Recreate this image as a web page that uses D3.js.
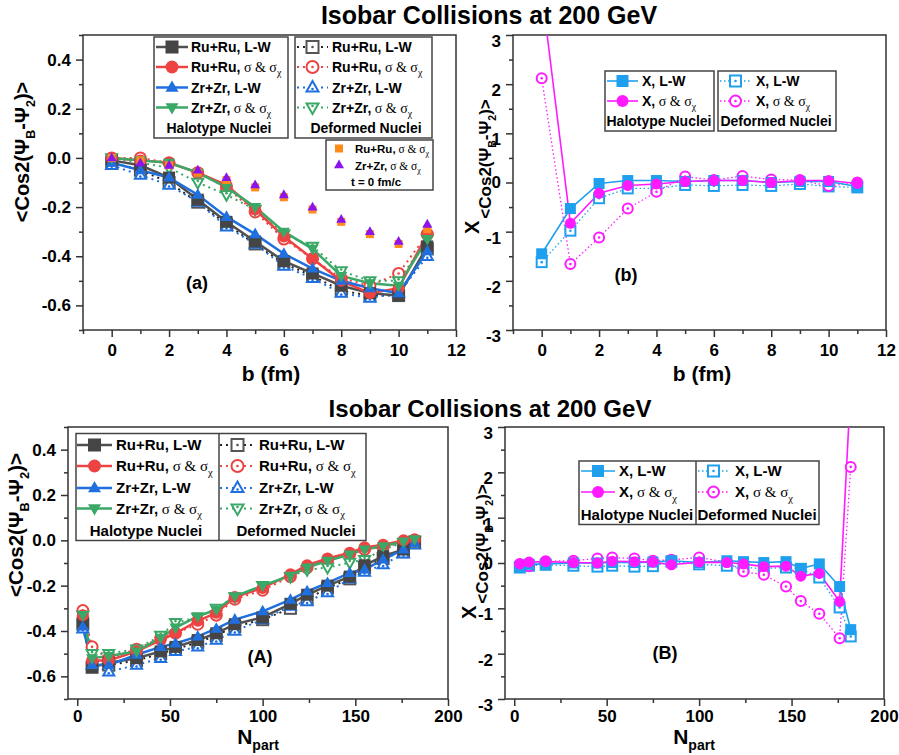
<!DOCTYPE html>
<html><head><meta charset="utf-8">
<script src="https://cdn.jsdelivr.net/npm/d3@7"></script>
<style>
body{margin:0;background:#fff}
svg{display:block}
text{font-family:"Liberation Sans",Arial,sans-serif;font-weight:bold;fill:#000}
</style>
</head><body>
<svg id="fig" width="899" height="755"></svg>
<script>
// ---------- data: impact parameter panels ----------
const bVals = [0, 1, 2, 3, 4, 5, 6, 7, 8, 9, 10, 11];
const ruLW_halo_b  = [-0.01, -0.03, -0.08, -0.17, -0.26, -0.34, -0.42, -0.47, -0.52, -0.55, -0.56, -0.36];
const ruSig_halo_b = [0.00, -0.01, -0.02, -0.06, -0.11, -0.21, -0.32, -0.41, -0.50, -0.55, -0.53, -0.31];
const zrLW_halo_b  = [-0.02, -0.05, -0.08, -0.15, -0.24, -0.31, -0.39, -0.45, -0.50, -0.53, -0.55, -0.38];
const zrSig_halo_b = [0.00, -0.01, -0.02, -0.06, -0.12, -0.20, -0.30, -0.37, -0.48, -0.51, -0.52, -0.33];
const ruLW_def_b   = [-0.02, -0.05, -0.10, -0.18, -0.27, -0.35, -0.43, -0.48, -0.54, -0.56, -0.56, -0.37];
const ruSig_def_b  = [0.00, 0.00, -0.02, -0.06, -0.12, -0.22, -0.33, -0.41, -0.49, -0.52, -0.47, -0.31];
const zrLW_def_b   = [-0.03, -0.07, -0.11, -0.18, -0.28, -0.35, -0.44, -0.49, -0.55, -0.57, -0.55, -0.40];
const zrSig_def_b  = [0.00, -0.02, -0.04, -0.10, -0.15, -0.21, -0.31, -0.36, -0.46, -0.50, -0.50, -0.33];
const ruSig_t0_b   = [0.00, -0.01, -0.03, -0.06, -0.09, -0.12, -0.16, -0.21, -0.26, -0.31, -0.35, -0.29];
const zrSig_t0_b   = [0.00, -0.02, -0.03, -0.05, -0.08, -0.11, -0.15, -0.20, -0.25, -0.30, -0.34, -0.27];

const xLW_halo_b   = [-1.45, -0.53, -0.02, 0.04, 0.04, 0.02, 0.04, 0.04, 0.00, 0.02, 0.02, -0.08];
const xSig_halo_b  = [3.90, -0.83, -0.22, -0.06, -0.03, 0.02, 0.04, 0.04, 0.00, 0.04, 0.04, -0.02];
const xLW_def_b    = [-1.62, -0.98, -0.32, -0.12, -0.12, -0.05, -0.07, -0.05, -0.07, -0.03, -0.08, -0.10];
const xSig_def_b   = [2.12, -1.66, -1.12, -0.53, -0.19, 0.12, 0.05, 0.13, 0.06, 0.05, -0.07, 0.00];

// ---------- data: participant-number panels ----------
const npartVals = [3, 8, 17, 32, 45, 53, 65, 75, 85, 100, 115, 124, 135, 147, 155, 165, 176, 182];
const ruLW_halo_n  = [-0.36, -0.56, -0.54, -0.52, -0.49, -0.47, -0.44, -0.41, -0.37, -0.34, -0.28, -0.24, -0.20, -0.16, -0.11, -0.07, -0.04, -0.005];
const ruSig_halo_n = [-0.33, -0.53, -0.53, -0.49, -0.44, -0.41, -0.355, -0.32, -0.25, -0.21, -0.15, -0.11, -0.08, -0.055, -0.03, -0.02, 0.00, 0.005];
const zrLW_halo_n  = [-0.38, -0.55, -0.55, -0.505, -0.47, -0.455, -0.424, -0.39, -0.35, -0.313, -0.262, -0.225, -0.188, -0.144, -0.129, -0.085, -0.04, -0.012];
const zrSig_halo_n = [-0.33, -0.52, -0.51, -0.49, -0.43, -0.385, -0.335, -0.306, -0.247, -0.20, -0.156, -0.12, -0.09, -0.063, -0.04, -0.026, -0.005, 0.005];
const ruLW_def_n   = [-0.37, -0.56, -0.55, -0.53, -0.50, -0.48, -0.45, -0.42, -0.38, -0.35, -0.30, -0.26, -0.21, -0.17, -0.12, -0.08, -0.05, -0.01];
const ruSig_def_n  = [-0.31, -0.47, -0.52, -0.48, -0.43, -0.41, -0.37, -0.33, -0.26, -0.22, -0.16, -0.12, -0.09, -0.06, -0.04, -0.03, -0.01, 0.00];
const zrLW_def_n   = [-0.39, -0.55, -0.58, -0.55, -0.52, -0.49, -0.47, -0.44, -0.40, -0.35, -0.29, -0.27, -0.23, -0.17, -0.14, -0.107, -0.06, -0.02];
const zrSig_def_n  = [-0.33, -0.50, -0.50, -0.48, -0.42, -0.363, -0.34, -0.30, -0.25, -0.20, -0.16, -0.13, -0.12, -0.098, -0.085, -0.04, -0.01, 0.00];

const xLW_halo_n   = [-0.08, -0.03, -0.02, 0.00, 0.00, 0.01, 0.01, 0.02, 0.05, 0.01, 0.05, 0.03, 0.01, 0.03, -0.12, -0.02, -0.52, -1.47];
const xSig_halo_n  = [-0.02, 0.02, 0.03, 0.01, 0.00, 0.04, 0.03, 0.02, -0.04, 0.02, 0.01, -0.02, -0.08, -0.07, -0.29, -0.23, -0.85, 3.90];
const xLW_def_n    = [-0.10, -0.06, -0.04, -0.06, -0.08, -0.06, -0.08, -0.07, 0.03, -0.03, -0.06, -0.10, -0.12, -0.10, -0.13, -0.32, -0.98, -1.62];
const xSig_def_n   = [-0.02, -0.07, 0.04, 0.05, 0.10, 0.12, 0.10, 0.05, 0.07, 0.12, 0.02, -0.19, -0.26, -0.52, -0.84, -1.12, -1.66, 2.12];

// ---------- tick labels ----------
const bTicks = [0, 2, 4, 6, 8, 10, 12];
const bMinor = [-1, 1, 3, 5, 7, 9, 11];
const npTicks = [0, 50, 100, 150, 200];
const npMinor = [25, 75, 125, 175];
const cosTicks = [-0.6, -0.4, -0.2, 0.0, 0.2, 0.4];
const cosMinor = [-0.7, -0.5, -0.3, -0.1, 0.1, 0.3, 0.5];
const xTicks = [-3, -2, -1, 0, 1, 2, 3];
const xMinor = [-2.5, -1.5, -0.5, 0.5, 1.5, 2.5];

// ---------- colours ----------
const COL = {
  gray: '#454545', grayLine: '#505050', red: '#EE4343', blue: '#1F6FDE', green: '#3AA866',
  orange: '#FF8C1A', purple: '#8B14EE', sky: '#1EA0EE', mag: '#FF1AFF', frame: '#333'
};

const svg = d3.select('#fig');
const SERIF = '"Liberation Serif","Times New Roman",serif';

// ---------- marker helpers ----------
function marker(g, type, cx, cy, s, color, open) {
  let el;
  if (type === 'square') {
    el = g.append('rect').attr('x', cx - s / 2).attr('y', cy - s / 2).attr('width', s).attr('height', s);
  } else if (type === 'circle') {
    el = g.append('circle').attr('cx', cx).attr('cy', cy).attr('r', s / 2);
  } else {
    const h = s * 0.88;
    const dir = type === 'tri' ? 1 : -1;
    const pts = [[cx, cy - dir * h * 0.62], [cx - s / 2, cy + dir * h * 0.38], [cx + s / 2, cy + dir * h * 0.38]];
    el = g.append('path').attr('d', 'M' + pts.map(p => p.join(',')).join('L') + 'Z');
  }
  if (open) {
    el.attr('fill', '#fff').attr('stroke', color).attr('stroke-width', 2);
    g.append('circle').attr('cx', cx).attr('cy', cy + (type === 'tri' ? 1.5 : type === 'tridown' ? -1.5 : 0))
      .attr('r', 1.3).attr('fill', color);
  } else {
    el.attr('fill', color).attr('stroke', 'none');
  }
}

// ---------- panel builder ----------
function panel(def) {
  const x = d3.scaleLinear().domain(def.xd).range([def.x0, def.x1]);
  const y = d3.scaleLinear().domain(def.yd).range([def.y1, def.y0]);
  const g = svg.append('g');
  const clipId = 'clip-' + def.id;
  svg.append('clipPath').attr('id', clipId).append('rect')
    .attr('x', def.x0).attr('y', def.y0).attr('width', def.x1 - def.x0).attr('height', def.y1 - def.y0);

  const styleAxis = sel => {
    sel.select('.domain').remove();
    sel.selectAll('line').attr('stroke', COL.frame).attr('stroke-width', 1.5);
    sel.selectAll('text').attr('font-size', 17).attr('fill', '#000');
  };
  g.append('g').attr('transform', `translate(0,${def.y1})`)
    .call(d3.axisBottom(x).tickValues(def.xMinor).tickSize(4).tickFormat('')).call(styleAxis);
  g.append('g').attr('transform', `translate(0,${def.y1})`)
    .call(d3.axisBottom(x).tickValues(def.xTicks).tickSize(7).tickPadding(def.xPad).tickFormat(d => String(d))).call(styleAxis);
  g.append('g').attr('transform', `translate(${def.x0},0)`)
    .call(d3.axisLeft(y).tickValues(def.yMinor).tickSize(4).tickFormat('')).call(styleAxis);
  const yAx = g.append('g').attr('transform', `translate(${def.x0},0)`)
    .call(d3.axisLeft(y).tickValues(def.yTicks).tickSize(7).tickPadding(5).tickFormat(def.yFmt)).call(styleAxis);
  // integer labels on the ratio axes sit a little below their ticks
  if (def.yLabelShift) {
    yAx.selectAll('.tick').filter(d => d !== 0).select('text').attr('y', def.yLabelShift);
  }

  g.append('rect').attr('x', def.x0).attr('y', def.y0).attr('width', def.x1 - def.x0).attr('height', def.y1 - def.y0)
    .attr('fill', 'none').attr('stroke', COL.frame).attr('stroke-width', 1.5);

  const dataG = g.append('g').attr('clip-path', `url(#${clipId})`);
  def.series.forEach(s => {
    const pts = def.xs.map((xv, i) => [x(xv), y(s.v[i])]);
    if (s.line) {
      dataG.append('path').attr('d', d3.line()(pts)).attr('fill', 'none')
        .attr('stroke', s.line).attr('stroke-width', s.lw)
        .attr('stroke-dasharray', s.dash || null);
    }
  });
  def.series.forEach(s => {
    const pts = def.xs.map((xv, i) => [x(xv), y(s.v[i])]);
    const mg = dataG.append('g');
    pts.forEach(p => marker(mg, s.type, p[0], p[1], s.size, s.color, s.open));
  });

  svg.append('text').attr('x', def.tag[0]).attr('y', def.tag[1]).attr('text-anchor', 'middle')
    .attr('font-size', 18).text(def.tag[2]);
  return { x, y };
}

// legend row: symbol on a short line, then a label
function legendRow(g, x0, x1, y, s, label, fs, tx) {
  g.append('line').attr('x1', x0).attr('x2', x1).attr('y1', y).attr('y2', y)
    .attr('stroke', s.line).attr('stroke-width', s.lw).attr('stroke-dasharray', s.dash || null);
  marker(g, s.type, (x0 + x1) / 2, y, s.size + 1, s.color, s.open);
  const t = g.append('text').attr('x', tx).attr('y', y + fs * 0.36).attr('font-size', fs);
  t.append('tspan').text(label.head);
  if (label.sigma) {
    t.append('tspan').attr('font-family', SERIF).attr('font-weight', 'normal').text(' σ & σ');
    t.append('tspan').attr('font-family', SERIF).attr('font-weight', 'normal')
      .attr('font-size', fs * 0.7).attr('dy', fs * 0.3).text('χ');
  } else {
    t.append('tspan').text(label.tail);
  }
}

function box(g, x, y, w, h) {
  g.append('rect').attr('x', x).attr('y', y).attr('width', w).attr('height', h)
    .attr('fill', '#fff').attr('stroke', '#444').attr('stroke-width', 1.5);
}

// y-axis title <Cos2(Ψ_B-Ψ_2)>
function cosTitle(t, fs) {
  const sub = fs * 0.62;
  t.append('tspan').text('<Cos2(Ψ');
  t.append('tspan').attr('font-size', sub).attr('dy', fs * 0.28).text('B');
  t.append('tspan').attr('dy', -fs * 0.28).text('-Ψ');
  t.append('tspan').attr('font-size', sub).attr('dy', fs * 0.28).text('2');
  t.append('tspan').attr('dy', -fs * 0.28).text(')>');
}

function xTitleB(px, py) {
  svg.append('text').attr('x', px).attr('y', py).attr('text-anchor', 'middle').attr('font-size', 21).text('b (fm)');
}
function xTitleN(px, py) {
  const t = svg.append('text').attr('x', px).attr('y', py).attr('text-anchor', 'middle').attr('font-size', 21);
  t.append('tspan').text('N');
  t.append('tspan').attr('font-size', 14).attr('dy', 6).text('part');
}

// ---------- series styles ----------
const halo = (v, type, color, line) => ({ v, type, color, line, lw: 2.5, size: 12, open: false });
const defo = (v, type, color, line) => ({ v, type, color, line, lw: 2, dash: '2,4', size: 11, open: true });
const fmt1 = d => d.toFixed(1);
const fmt0 = d => String(d);

// ---------- titles ----------
svg.append('text').attr('x', 489).attr('y', 24).attr('text-anchor', 'middle').attr('font-size', 25)
  .text('Isobar Collisions at 200 GeV');
svg.append('text').attr('x', 490).attr('y', 417).attr('text-anchor', 'middle').attr('font-size', 24)
  .text('Isobar Collisions at 200 GeV');

// ---------- panel (a) ----------
panel({
  id: 'a', x0: 83, x1: 456, y0: 35, y1: 330, xd: [-1, 12], yd: [-0.7, 0.5],
  xTicks: bTicks, xMinor: bMinor, yTicks: cosTicks, yMinor: cosMinor, yFmt: fmt1, xPad: 7,
  xs: bVals, tag: [197, 289, '(a)'],
  series: [
    defo(ruLW_def_b, 'square', '#555', '#222'),
    defo(ruSig_def_b, 'circle', COL.red, COL.red),
    defo(zrLW_def_b, 'tri', COL.blue, COL.blue),
    defo(zrSig_def_b, 'tridown', COL.green, COL.green),
    halo(ruLW_halo_b, 'square', COL.gray, COL.grayLine),
    halo(ruSig_halo_b, 'circle', COL.red, COL.red),
    halo(zrLW_halo_b, 'tri', COL.blue, COL.blue),
    halo(zrSig_halo_b, 'tridown', COL.green, COL.green),
    { v: ruSig_t0_b, type: 'square', color: COL.orange, size: 8, open: false },
    { v: zrSig_t0_b, type: 'tri', color: COL.purple, size: 10, open: false }
  ]
});
xTitleB(271, 381);
cosTitle(svg.append('text').attr('transform', 'translate(29,152) rotate(-90)').attr('text-anchor', 'middle').attr('font-size', 20), 20);

// legend (a)
{
  const g = svg.append('g');
  box(g, 154, 37, 134, 101);
  box(g, 295, 37, 137, 101);
  const rows = [47, 67, 87.5, 107.5];
  const labels = [{ head: 'Ru+Ru, ', tail: 'L-W' }, { head: 'Ru+Ru,', sigma: true }, { head: 'Zr+Zr, ', tail: 'L-W' }, { head: 'Zr+Zr,', sigma: true }];
  const hs = [halo(0, 'square', COL.gray, COL.grayLine), halo(0, 'circle', COL.red, COL.red), halo(0, 'tri', COL.blue, COL.blue), halo(0, 'tridown', COL.green, COL.green)];
  const ds = [defo(0, 'square', '#555', '#222'), defo(0, 'circle', COL.red, COL.red), defo(0, 'tri', COL.blue, COL.blue), defo(0, 'tridown', COL.green, COL.green)];
  rows.forEach((ry, i) => {
    legendRow(g, 156, 188, ry, hs[i], labels[i], 14, 191);
    legendRow(g, 297, 328, ry, ds[i], labels[i], 14, 332);
  });
  g.append('text').attr('x', 219).attr('y', 133).attr('text-anchor', 'middle').attr('font-size', 14).text('Halotype Nuclei');
  g.append('text').attr('x', 366).attr('y', 133).attr('text-anchor', 'middle').attr('font-size', 14).text('Deformed Nuclei');

  box(g, 326, 140, 107, 50);
  marker(g, 'square', 339, 148.5, 8, COL.orange, false);
  marker(g, 'tri', 339, 165, 10, COL.purple, false);
  const t1 = g.append('text').attr('x', 355).attr('y', 152.5).attr('font-size', 11.5);
  t1.append('tspan').text('Ru+Ru,');
  t1.append('tspan').attr('font-family', SERIF).attr('font-weight', 'normal').text(' σ & σ');
  t1.append('tspan').attr('font-family', SERIF).attr('font-weight', 'normal').attr('font-size', 8).attr('dy', 3).text('χ');
  const t2 = g.append('text').attr('x', 355).attr('y', 169.5).attr('font-size', 11.5);
  t2.append('tspan').text('Zr+Zr,');
  t2.append('tspan').attr('font-family', SERIF).attr('font-weight', 'normal').text(' σ & σ');
  t2.append('tspan').attr('font-family', SERIF).attr('font-weight', 'normal').attr('font-size', 8).attr('dy', 3).text('χ');
  g.append('text').attr('x', 376).attr('y', 186).attr('text-anchor', 'middle').attr('font-size', 11.5).text('t = 0 fm/c');
}

// ---------- panel (b) ----------
const xh = (v, type, color) => ({ v, type, color, line: color, lw: 1.6, size: 11, open: false });
const xd = (v, type, color) => ({ v, type, color, line: color, lw: 1.3, dash: '1.5,2.5', size: 10, open: true });
panel({
  id: 'b', x0: 513, x1: 886, y0: 35, y1: 330, xd: [-1, 12], yd: [-3, 3],
  xTicks: bTicks, xMinor: bMinor, yTicks: xTicks, yMinor: xMinor, yFmt: fmt0, xPad: 7, yLabelShift: 6,
  xs: bVals, tag: [626, 281, '(b)'],
  series: [
    xd(xLW_def_b, 'square', COL.sky),
    xd(xSig_def_b, 'circle', COL.mag),
    xh(xLW_halo_b, 'square', COL.sky),
    xh(xSig_halo_b, 'circle', COL.mag)
  ]
});
xTitleB(702, 381);
{
  const t = svg.append('text').attr('transform', 'translate(479,234) rotate(-90)').attr('font-size', 20);
  t.append('tspan').text('X');
  const s = t.append('tspan').attr('font-size', 17).attr('dy', 12).attr('dx', 2);
  cosTitle(s, 17);
}
{
  const g = svg.append('g');
  box(g, 605, 71, 109, 60);
  box(g, 718, 71, 118, 60);
  const la = [{ head: 'X, ', tail: 'L-W' }, { head: 'X,', sigma: true }];
  legendRow(g, 607, 638, 81, xh(0, 'square', COL.sky), la[0], 14, 642);
  legendRow(g, 607, 638, 101, xh(0, 'circle', COL.mag), la[1], 14, 642);
  legendRow(g, 720, 751, 81, xd(0, 'square', COL.sky), la[0], 14, 756);
  legendRow(g, 720, 751, 101, xd(0, 'circle', COL.mag), la[1], 14, 756);
  g.append('text').attr('x', 659).attr('y', 126).attr('text-anchor', 'middle').attr('font-size', 14).text('Halotype Nuclei');
  g.append('text').attr('x', 776).attr('y', 126).attr('text-anchor', 'middle').attr('font-size', 14).text('Deformed Nuclei');
}

// ---------- panel (A) ----------
panel({
  id: 'A', x0: 68, x1: 448, y0: 427, y1: 699, xd: [-5, 200], yd: [-0.7, 0.5],
  xTicks: npTicks, xMinor: npMinor, yTicks: cosTicks, yMinor: cosMinor, yFmt: fmt1, xPad: 4,
  xs: npartVals, tag: [260, 663, '(A)'],
  series: [
    defo(ruLW_def_n, 'square', '#555', '#222'),
    defo(ruSig_def_n, 'circle', COL.red, COL.red),
    defo(zrLW_def_n, 'tri', COL.blue, COL.blue),
    defo(zrSig_def_n, 'tridown', COL.green, COL.green),
    halo(ruLW_halo_n, 'square', COL.gray, COL.grayLine),
    halo(ruSig_halo_n, 'circle', COL.red, COL.red),
    halo(zrLW_halo_n, 'tri', COL.blue, COL.blue),
    halo(zrSig_halo_n, 'tridown', COL.green, COL.green)
  ]
});
xTitleN(258, 744);
cosTitle(svg.append('text').attr('transform', 'translate(23,525) rotate(-90)').attr('text-anchor', 'middle').attr('font-size', 20.5), 20.5);
{
  const g = svg.append('g');
  box(g, 76, 433.5, 290, 107);
  g.append('line').attr('x1', 219).attr('x2', 219).attr('y1', 433.5).attr('y2', 540.5).attr('stroke', '#444').attr('stroke-width', 1.5);
  const rows = [445, 466, 488, 508.5];
  const labels = [{ head: 'Ru+Ru, ', tail: 'L-W' }, { head: 'Ru+Ru,', sigma: true }, { head: 'Zr+Zr, ', tail: 'L-W' }, { head: 'Zr+Zr,', sigma: true }];
  const hs = [halo(0, 'square', COL.gray, COL.grayLine), halo(0, 'circle', COL.red, COL.red), halo(0, 'tri', COL.blue, COL.blue), halo(0, 'tridown', COL.green, COL.green)];
  const ds = [defo(0, 'square', '#555', '#222'), defo(0, 'circle', COL.red, COL.red), defo(0, 'tri', COL.blue, COL.blue), defo(0, 'tridown', COL.green, COL.green)];
  rows.forEach((ry, i) => {
    legendRow(g, 77, 112, ry, hs[i], labels[i], 15, 116);
    legendRow(g, 220, 255, ry, ds[i], labels[i], 15, 259);
  });
  g.append('text').attr('x', 146).attr('y', 535.5).attr('text-anchor', 'middle').attr('font-size', 15).text('Halotype Nuclei');
  g.append('text').attr('x', 296).attr('y', 535.5).attr('text-anchor', 'middle').attr('font-size', 15).text('Deformed Nuclei');
}

// ---------- panel (B) ----------
panel({
  id: 'B', x0: 505, x1: 884, y0: 427, y1: 699, xd: [-5, 200], yd: [-3, 3],
  xTicks: npTicks, xMinor: npMinor, yTicks: xTicks, yMinor: xMinor, yFmt: fmt0, xPad: 4, yLabelShift: 6,
  xs: npartVals, tag: [665, 659, '(B)'],
  series: [
    xd(xLW_def_n, 'square', COL.sky),
    xd(xSig_def_n, 'circle', COL.mag),
    xh(xLW_halo_n, 'square', COL.sky),
    xh(xSig_halo_n, 'circle', COL.mag)
  ]
});
xTitleN(694, 744);
{
  const t = svg.append('text').attr('transform', 'translate(476,619) rotate(-90)').attr('font-size', 20);
  t.append('tspan').text('X');
  const s = t.append('tspan').attr('font-size', 17).attr('dy', 12).attr('dx', 2);
  cosTitle(s, 17);
}
{
  const g = svg.append('g');
  box(g, 579, 461, 240, 63.5);
  g.append('line').attr('x1', 696).attr('x2', 696).attr('y1', 461).attr('y2', 524.5).attr('stroke', '#444').attr('stroke-width', 1.5);
  const la = [{ head: 'X, ', tail: 'L-W' }, { head: 'X,', sigma: true }];
  legendRow(g, 581, 615, 471, xh(0, 'square', COL.sky), la[0], 15, 619);
  legendRow(g, 581, 615, 492, xh(0, 'circle', COL.mag), la[1], 15, 619);
  legendRow(g, 698, 729, 471, xd(0, 'square', COL.sky), la[0], 15, 735);
  legendRow(g, 698, 729, 492, xd(0, 'circle', COL.mag), la[1], 15, 735);
  g.append('text').attr('x', 637).attr('y', 519.5).attr('text-anchor', 'middle').attr('font-size', 15).text('Halotype Nuclei');
  g.append('text').attr('x', 757).attr('y', 519.5).attr('text-anchor', 'middle').attr('font-size', 15).text('Deformed Nuclei');
}
</script>
</body></html>
